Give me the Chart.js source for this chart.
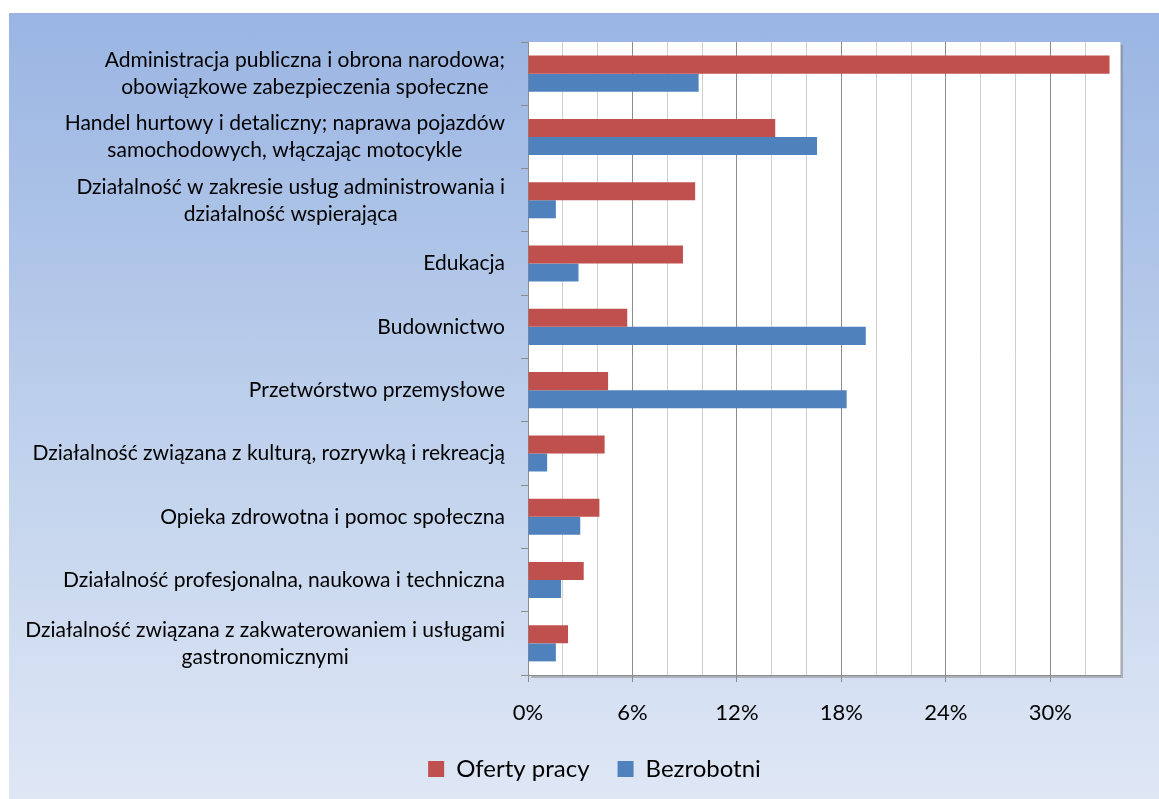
<!DOCTYPE html>
<html>
<head>
<meta charset="utf-8">
<script src="https://cdn.jsdelivr.net/npm/chart.js@4"></script>
<style>
  html, body { margin: 0; padding: 0; background: #ffffff; }
  #wrap {
    position: absolute; left: 9px; top: 13px; width: 1150px; height: 786px;
    background: linear-gradient(to bottom, #9ab5e3 0%, #bccfeb 50%, #dfe7f5 100%);
  }
  canvas { display: block; }
</style>
</head>
<body>
<div id="wrap"><canvas id="chart" width="1150" height="786"></canvas></div>
<script>
const categories = [
  ["Administracja publiczna i obrona narodowa;", "obowiązkowe zabezpieczenia społeczne"],
  ["Handel hurtowy i detaliczny; naprawa pojazdów", "samochodowych, włączając motocykle"],
  ["Działalność w zakresie usług administrowania i", "działalność wspierająca"],
  "Edukacja",
  "Budownictwo",
  "Przetwórstwo przemysłowe",
  "Działalność związana z kulturą, rozrywką i rekreacją",
  "Opieka zdrowotna i pomoc społeczna",
  "Działalność profesjonalna, naukowa i techniczna",
  ["Działalność związana z zakwaterowaniem i usługami", "gastronomicznymi"]
];
const ofertyPracy = [33.4, 14.2, 9.6, 8.9, 5.7, 4.6, 4.4, 4.1, 3.2, 2.3];
const bezrobotni = [9.8, 16.6, 1.6, 2.9, 19.4, 18.3, 1.1, 3.0, 1.9, 1.6];
const xMax = 34;
const xStep = 2;
const labelEvery = 6;

const FONT = "Lato, 'Open Sans', sans-serif";

// white plot area with a small shadow, drawn under the grid
const plotBg = {
  id: "plotBg",
  beforeDraw(chart) {
    const { ctx, chartArea: a } = chart;
    ctx.save();
    ctx.fillStyle = "rgba(120,120,120,0.45)";
    ctx.fillRect(a.left + 3, a.top + 3, a.right - a.left, a.bottom - a.top);
    ctx.fillStyle = "#ffffff";
    ctx.fillRect(a.left, a.top, a.right - a.left, a.bottom - a.top);
    ctx.restore();
  }
};

// category labels: block right-aligned, lines centred inside the block
const catLabels = {
  id: "catLabels",
  afterDraw(chart) {
    const { ctx } = chart;
    const y = chart.scales.y;
    ctx.save();
    ctx.font = "21px " + FONT;
    ctx.fillStyle = "#000000";
    ctx.textAlign = "center";
    ctx.textBaseline = "middle";
    const right = y.right - 23;
    const lineH = 27;
    categories.forEach((c, i) => {
      const lines = Array.isArray(c) ? c : [c];
      const w = Math.max(...lines.map(l => ctx.measureText(l).width));
      const cx = right - w / 2;
      const cy = y.getPixelForTick(i);
      lines.forEach((l, k) => {
        ctx.fillText(l, cx, cy + (k - (lines.length - 1) / 2) * lineH);
      });
    });
    ctx.restore();
  }
};

new Chart(document.getElementById("chart"), {
  type: "bar",
  data: {
    labels: categories,
    datasets: [
      { label: "Oferty pracy", data: ofertyPracy, backgroundColor: "#c0504d" },
      { label: "Bezrobotni", data: bezrobotni, backgroundColor: "#4f81bd" }
    ]
  },
  options: {
    indexAxis: "y",
    responsive: false,
    animation: false,
    categoryPercentage: 0.57,
    barPercentage: 1,
    layout: { padding: { left: 60, top: 29, right: 39, bottom: 8 } },
    plugins: {
      tooltip: { enabled: false },
      legend: {
        position: "bottom",
        labels: {
          color: "#000000",
          font: { family: FONT, size: 24 },
          boxWidth: 16,
          boxHeight: 16,
          padding: 28
        }
      }
    },
    scales: {
      x: {
        min: 0,
        max: xMax,
        afterFit: s => { s.height = 54; },
        ticks: {
          stepSize: xStep,
          autoSkip: false,
          maxRotation: 0,
          padding: 18,
          color: "#000000",
          font: { family: FONT, size: 22 },
          callback: v => (v % labelEvery === 0 ? v + "%" : "")
        },
        grid: {
          color: c => (c.tick && c.tick.value % labelEvery === 0 ? "#8c8c8c" : "#cfcfcf"),
          tickColor: c => (c.tick && c.tick.value % labelEvery === 0 ? "#8c8c8c" : "rgba(0,0,0,0)"),
          tickLength: 7,
          lineWidth: 1
        },
        border: { color: "#8c8c8c" }
      },
      y: {
        afterFit: s => { s.width = 459; },
        ticks: { display: false },
        grid: {
          offset: true,
          drawOnChartArea: false,
          tickLength: 7,
          color: "#8c8c8c"
        },
        border: { color: "#8c8c8c" }
      }
    }
  },
  plugins: [plotBg, catLabels]
});
</script>
</body>
</html>
